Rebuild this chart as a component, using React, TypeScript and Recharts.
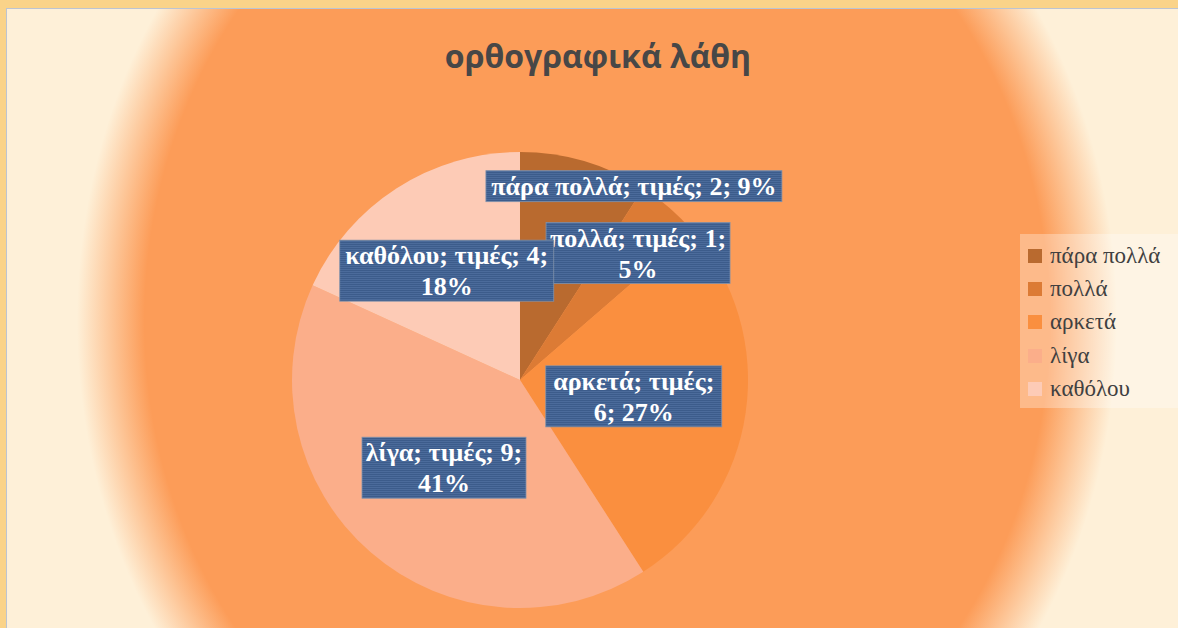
import React from "react";
import { PieChart, Pie, Cell } from "recharts";

const categories = ["πάρα πολλά", "πολλά", "αρκετά", "λίγα", "καθόλου"];
const values = [2, 1, 6, 9, 4];
const sliceColors = ["#B96A2F", "#DC7B35", "#FA8F3F", "#FBAE8A", "#FDCBB6"];
const chartTitle = "ορθογραφικά λάθη";
const valueWord = "τιμές";

// label placement: radius fraction, horizontal nudge, box width, segments on line 1
const labelLayout = [
  { rf: 0.886, dx: 57, w: 296, split: 4 },
  { rf: 0.737, dx: 8, w: 184, split: 3 },
  { rf: 0.504, dx: 0, w: 176, split: 2 },
  { rf: 0.509, dx: 0, w: 164, split: 3 },
  { rf: 0.57, dx: -3, w: 214, split: 3 },
];

const data = categories.map((name, i) => ({ name, value: values[i] }));
const RAD = Math.PI / 180;

function renderLabel(props: any) {
  const { cx, cy, midAngle, outerRadius, index, name, value, percent } = props;
  const lay = labelLayout[index];
  const r = outerRadius * lay.rf;
  const x = cx + r * Math.cos(-midAngle * RAD) + lay.dx;
  const y = cy + r * Math.sin(-midAngle * RAD);
  const parts = [name, valueWord, String(value), `${Math.round(percent * 100)}%`];
  const lines = [parts.slice(0, lay.split).join("; ") + (lay.split < 4 ? ";" : "")];
  if (lay.split < 4) lines.push(parts.slice(lay.split).join("; "));
  const h = lines.length * 30 + 1;
  const top = y - h / 2;
  return (
    <g key={`lbl-${index}`}>
      <rect x={x - lay.w / 2} y={top} width={lay.w} height={h} fill="url(#stripes)" stroke="#8091AA" strokeWidth={0.8} />
      {lines.map((ln, k) => (
        <text
          key={k}
          x={x}
          y={top + 24 + k * 31}
          textAnchor="middle"
          fill="#FFFFFF"
          style={{ fontFamily: "'Liberation Serif', 'Times New Roman', serif", fontWeight: 700, fontSize: 26 }}
        >
          {ln}
        </text>
      ))}
    </g>
  );
}

export default function App() {
  return (
    <div style={{ position: "absolute", left: 0, top: 0, width: 1178, height: 628, background: "#FAD389", overflow: "hidden" }}>
      <svg width={0} height={0} style={{ position: "absolute" }}>
        <defs>
          <pattern id="stripes" width={4} height={2} patternUnits="userSpaceOnUse">
            <rect width={4} height={2} fill="#3C5C8B" />
            <rect y={1} width={4} height={1} fill="#4B6B9B" />
          </pattern>
        </defs>
      </svg>
      <div
        style={{
          position: "absolute",
          left: 6,
          top: 8,
          width: 1172,
          height: 620,
          borderLeft: "1px solid #BCC4D2",
          borderTop: "1px solid #BCC4D2",
          background:
            "radial-gradient(ellipse 520px 585px at 590px 312px, #FC9C58 0%, #FC9C58 87%, #FEF0D8 100%)",
        }}
      />
      <div
        style={{
          position: "absolute",
          left: 0,
          width: 1196,
          top: 34,
          textAlign: "center",
          fontFamily: "'Open Sans', 'Noto Sans', sans-serif",
          fontWeight: 700,
          fontSize: 32,
          color: "#474747",
        }}
      >
        {chartTitle}
      </div>
      <div style={{ position: "absolute", left: 0, top: 0 }}>
        <PieChart width={1178} height={628} margin={{ top: 0, right: 0, bottom: 0, left: 0 }}>
          <Pie
            data={data}
            dataKey="value"
            nameKey="name"
            cx={520}
            cy={380}
            outerRadius={228}
            startAngle={90}
            endAngle={-270}
            stroke="none"
            labelLine={false}
            label={renderLabel}
            isAnimationActive={false}
          >
            {data.map((d, i) => (
              <Cell key={d.name} fill={sliceColors[i]} />
            ))}
          </Pie>
        </PieChart>
      </div>
      <div
        style={{
          position: "absolute",
          left: 1020,
          top: 234,
          width: 170,
          height: 174,
          background: "rgba(255,255,255,0.3)",
          fontFamily: "'Liberation Serif', 'Times New Roman', serif",
          fontSize: 23,
          color: "#404040",
        }}
      >
        {categories.map((c, i) => (
          <div key={c} style={{ position: "absolute", left: 8, top: 14 + i * 33.2, height: 16, display: "flex", alignItems: "center", whiteSpace: "nowrap" }}>
            <span style={{ display: "inline-block", width: 14, height: 14, background: sliceColors[i], marginRight: 8, flexShrink: 0 }} />
            <span>{c}</span>
          </div>
        ))}
      </div>
    </div>
  );
}
